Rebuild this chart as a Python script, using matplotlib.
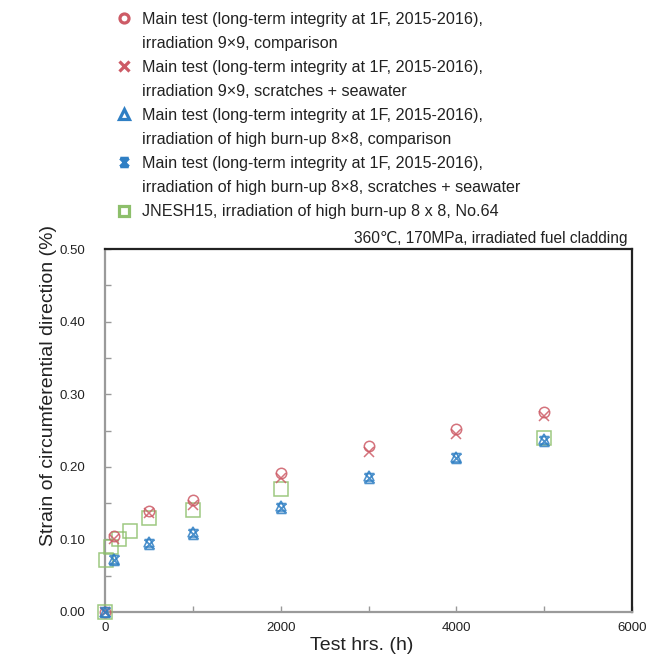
import matplotlib
matplotlib.use("Agg")
import matplotlib.pyplot as plt
from matplotlib.lines import Line2D
from matplotlib.path import Path

plt.rcParams['font.family'] = ['Liberation Sans', 'DejaVu Sans']

# ---- data ----
hours_main = [0, 100, 500, 1000, 2000, 3000, 4000, 5000]
strain_9x9_comp = [0, 0.105, 0.139, 0.154, 0.191, 0.228, 0.252, 0.276]
strain_9x9_scratch = [0, 0.100, 0.136, 0.148, 0.185, 0.221, 0.245, 0.270]
strain_8x8_comp = [0, 0.073, 0.096, 0.110, 0.146, 0.187, 0.214, 0.238]
strain_8x8_scratch = [0, 0.071, 0.094, 0.107, 0.143, 0.185, 0.212, 0.235]
hours_jnes = [0, 17, 70, 160, 280, 500, 1000, 2000, 5000]
strain_jnes = [0, 0.071, 0.090, 0.101, 0.111, 0.130, 0.140, 0.170, 0.240]

labels = [
    ("Main test (long-term integrity at 1F, 2015-2016),", "irradiation 9×9, comparison"),
    ("Main test (long-term integrity at 1F, 2015-2016),", "irradiation 9×9, scratches + seawater"),
    ("Main test (long-term integrity at 1F, 2015-2016),", "irradiation of high burn-up 8×8, comparison"),
    ("Main test (long-term integrity at 1F, 2015-2016),", "irradiation of high burn-up 8×8, scratches + seawater"),
    ("JNESH15, irradiation of high burn-up 8 x 8, No.64", None),
]
title_text = "360\u2103, 170MPa, irradiated fuel cladding"
xlabel = "Test hrs. (h)"
ylabel = "Strain of circumferential direction (%)"
xticks = [0, 2000, 4000, 6000]
yticks = [0.0, 0.1, 0.2, 0.3, 0.4, 0.5]

RED = '#cd5b66'
BLUE = '#2f7fc4'
GREEN = '#8dbf6b'

# X with horizontal caps
star_path = Path(
    [(-1, 1), (1, 1), (-1, 1), (1, -1), (-1, -1), (1, -1), (-1, -1), (1, 1)],
    [Path.MOVETO, Path.LINETO, Path.MOVETO, Path.LINETO,
     Path.MOVETO, Path.LINETO, Path.MOVETO, Path.LINETO])

fig = plt.figure(figsize=(6.71, 6.61), dpi=100)
ax = fig.add_axes([105/671, 1-612/661, (632-105)/671, (612-249)/661])

common = dict(linestyle='none', alpha=0.85, clip_on=False)
ax.plot(hours_main, strain_9x9_comp, marker='o', ms=7.5,
        mfc='none', mec=RED, mew=1.1, zorder=5, **common)
ax.plot(hours_main, strain_9x9_scratch, marker='x', ms=6.5,
        mec=RED, mew=1.1, zorder=5, **common)
ax.plot(hours_jnes, strain_jnes, marker='s', ms=10,
        mfc='none', mec=GREEN, mew=1.1, zorder=4, **common)
ax.plot(hours_main, strain_8x8_comp, marker='^', ms=7,
        mfc='none', mec=BLUE, mew=1.2, zorder=6, **common)
ax.plot(hours_main, strain_8x8_scratch, marker=star_path, ms=7,
        mfc='none', mec=BLUE, mew=1.3, zorder=6, **common)

ax.set_xlim(0, 6000)
ax.set_ylim(0, 0.5)
ax.set_xticks(xticks)
ax.set_xticks([1000, 3000, 5000], minor=True)
ax.set_yticks(yticks)
ax.set_yticks([0.05, 0.15, 0.25, 0.35, 0.45], minor=True)
ax.set_yticklabels([f"{v:.2f}" for v in yticks])
ax.tick_params(axis='both', which='both', direction='in', length=4, width=1,
               color='#999999', labelcolor='#222222', labelsize=9.5)
ax.tick_params(axis='y', which='major', pad=14)
ax.tick_params(axis='x', which='major', pad=7)

for s in ('left', 'bottom'):
    ax.spines[s].set_color('#9a9a9a')
    ax.spines[s].set_linewidth(1.6)
for s in ('top', 'right'):
    ax.spines[s].set_color('#222222')
    ax.spines[s].set_linewidth(1.6)

ax.set_xlabel(xlabel, fontsize=14, color='#222222')
ax.xaxis.set_label_coords((362-105)/527, (612-637)/363)
ax.set_ylabel(ylabel, fontsize=14, color='#222222')
ax.yaxis.set_label_coords((57-105)/527, (612-385)/363)

fig.text(628/671, 1-243/661, title_text, ha='right', va='baseline',
         fontsize=11.2, color='#222222')

# ---- legend ----
leg_styles = [
    dict(marker='o', ms=6.5, mfc='none', mec=RED, mew=2.3),
    dict(marker='x', ms=6.5, mec=RED, mew=2.3),
    dict(marker='^', ms=7, mfc='none', mec=BLUE, mew=2.3),
    dict(marker=star_path, ms=6, mfc='none', mec=BLUE, mew=2.3),
    dict(marker='s', ms=7.5, mfc='none', mec=GREEN, mew=2.3),
]
handles, texts = [], []
for st, (l1, l2) in zip(leg_styles, labels):
    handles.append(Line2D([], [], linestyle='none', **st))
    texts.append(l1)
    if l2 is not None:
        handles.append(Line2D([], [], linestyle='none', marker=None))
        texts.append(l2)

leg = fig.legend(handles, texts, loc='upper left',
                 bbox_to_anchor=(118/671, 1-12/661), frameon=False,
                 fontsize=11.6, handlelength=0.8, handletextpad=0.7,
                 labelspacing=0.56, borderpad=0, borderaxespad=0)
for t in leg.get_texts():
    t.set_color('#222222')

fig.savefig('out.png', dpi=100)
